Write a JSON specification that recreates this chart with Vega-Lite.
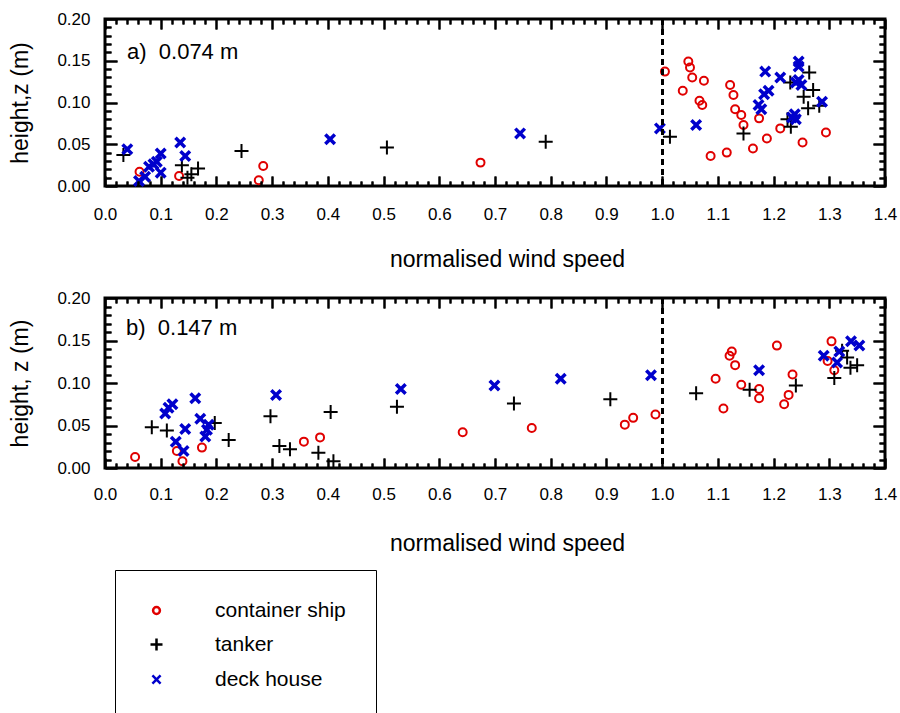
{
  "$schema": "https://vega.github.io/schema/vega-lite/v6.json",
  "background": "white",
  "padding": {"left": 8, "top": 8, "right": 5, "bottom": 0},
  "config": {
    "font": "Liberation Sans",
    "view": {"stroke": "black", "strokeWidth": 3},
    "axis": {
      "domain": false,
      "labelFont": "Liberation Sans",
      "labelFontSize": 17,
      "labelColor": "black",
      "labelOverlap": false,
      "labelFlush": false,
      "titleFont": "Liberation Sans",
      "titleFontSize": 23,
      "titleFontWeight": "normal",
      "titleColor": "black"
    },
    "legend": {
      "labelFont": "Liberation Sans",
      "labelFontSize": 21,
      "labelColor": "black"
    }
  },
  "datasets": {
    "panel_a": [
      {"type": "container ship", "ws": 0.062, "z": 0.017},
      {"type": "container ship", "ws": 0.133, "z": 0.012},
      {"type": "container ship", "ws": 0.276, "z": 0.007},
      {"type": "container ship", "ws": 0.284, "z": 0.024},
      {"type": "container ship", "ws": 0.674, "z": 0.028},
      {"type": "container ship", "ws": 1.005, "z": 0.137},
      {"type": "container ship", "ws": 1.047, "z": 0.149},
      {"type": "container ship", "ws": 1.050, "z": 0.142},
      {"type": "container ship", "ws": 1.054, "z": 0.130},
      {"type": "container ship", "ws": 1.037, "z": 0.114},
      {"type": "container ship", "ws": 1.075, "z": 0.126},
      {"type": "container ship", "ws": 1.067, "z": 0.102},
      {"type": "container ship", "ws": 1.072, "z": 0.097},
      {"type": "container ship", "ws": 1.122, "z": 0.121},
      {"type": "container ship", "ws": 1.128, "z": 0.109},
      {"type": "container ship", "ws": 1.131, "z": 0.092},
      {"type": "container ship", "ws": 1.142, "z": 0.085},
      {"type": "container ship", "ws": 1.146, "z": 0.073},
      {"type": "container ship", "ws": 1.174, "z": 0.081},
      {"type": "container ship", "ws": 1.087, "z": 0.036},
      {"type": "container ship", "ws": 1.116, "z": 0.040},
      {"type": "container ship", "ws": 1.163, "z": 0.045},
      {"type": "container ship", "ws": 1.188, "z": 0.057},
      {"type": "container ship", "ws": 1.212, "z": 0.069},
      {"type": "container ship", "ws": 1.252, "z": 0.052},
      {"type": "container ship", "ws": 1.294, "z": 0.064},
      {"type": "tanker", "ws": 0.033, "z": 0.037},
      {"type": "tanker", "ws": 0.138, "z": 0.025},
      {"type": "tanker", "ws": 0.148, "z": 0.010},
      {"type": "tanker", "ws": 0.155, "z": 0.014},
      {"type": "tanker", "ws": 0.167, "z": 0.021},
      {"type": "tanker", "ws": 0.245, "z": 0.042},
      {"type": "tanker", "ws": 0.506, "z": 0.046},
      {"type": "tanker", "ws": 0.791, "z": 0.053},
      {"type": "tanker", "ws": 1.014, "z": 0.059},
      {"type": "tanker", "ws": 1.146, "z": 0.063},
      {"type": "tanker", "ws": 1.230, "z": 0.124},
      {"type": "tanker", "ws": 1.264, "z": 0.136},
      {"type": "tanker", "ws": 1.254, "z": 0.107},
      {"type": "tanker", "ws": 1.271, "z": 0.115},
      {"type": "tanker", "ws": 1.262, "z": 0.093},
      {"type": "tanker", "ws": 1.282, "z": 0.096},
      {"type": "tanker", "ws": 1.225, "z": 0.080},
      {"type": "tanker", "ws": 1.231, "z": 0.071},
      {"type": "deck house", "ws": 0.040, "z": 0.044},
      {"type": "deck house", "ws": 0.061, "z": 0.006},
      {"type": "deck house", "ws": 0.072, "z": 0.011},
      {"type": "deck house", "ws": 0.079, "z": 0.023},
      {"type": "deck house", "ws": 0.087, "z": 0.026},
      {"type": "deck house", "ws": 0.093, "z": 0.029},
      {"type": "deck house", "ws": 0.100, "z": 0.039},
      {"type": "deck house", "ws": 0.100, "z": 0.016},
      {"type": "deck house", "ws": 0.135, "z": 0.052},
      {"type": "deck house", "ws": 0.144, "z": 0.036},
      {"type": "deck house", "ws": 0.404, "z": 0.056},
      {"type": "deck house", "ws": 0.745, "z": 0.063},
      {"type": "deck house", "ws": 0.996, "z": 0.069},
      {"type": "deck house", "ws": 1.061, "z": 0.073},
      {"type": "deck house", "ws": 1.185, "z": 0.137},
      {"type": "deck house", "ws": 1.212, "z": 0.130},
      {"type": "deck house", "ws": 1.245, "z": 0.149},
      {"type": "deck house", "ws": 1.245, "z": 0.143},
      {"type": "deck house", "ws": 1.245, "z": 0.127},
      {"type": "deck house", "ws": 1.250, "z": 0.121},
      {"type": "deck house", "ws": 1.240, "z": 0.124},
      {"type": "deck house", "ws": 1.191, "z": 0.114},
      {"type": "deck house", "ws": 1.183, "z": 0.110},
      {"type": "deck house", "ws": 1.173, "z": 0.097},
      {"type": "deck house", "ws": 1.178, "z": 0.092},
      {"type": "deck house", "ws": 1.233, "z": 0.082},
      {"type": "deck house", "ws": 1.240, "z": 0.080},
      {"type": "deck house", "ws": 1.238, "z": 0.086},
      {"type": "deck house", "ws": 1.287, "z": 0.101}
    ],
    "panel_b": [
      {"type": "container ship", "ws": 0.054, "z": 0.013},
      {"type": "container ship", "ws": 0.129, "z": 0.020},
      {"type": "container ship", "ws": 0.139, "z": 0.008},
      {"type": "container ship", "ws": 0.174, "z": 0.024},
      {"type": "container ship", "ws": 0.357, "z": 0.031},
      {"type": "container ship", "ws": 0.386, "z": 0.036},
      {"type": "container ship", "ws": 0.642, "z": 0.042},
      {"type": "container ship", "ws": 0.766, "z": 0.047},
      {"type": "container ship", "ws": 0.933, "z": 0.051},
      {"type": "container ship", "ws": 0.948, "z": 0.059},
      {"type": "container ship", "ws": 0.988, "z": 0.063},
      {"type": "container ship", "ws": 1.096, "z": 0.105},
      {"type": "container ship", "ws": 1.110, "z": 0.070},
      {"type": "container ship", "ws": 1.121, "z": 0.132},
      {"type": "container ship", "ws": 1.125, "z": 0.137},
      {"type": "container ship", "ws": 1.131, "z": 0.121},
      {"type": "container ship", "ws": 1.142, "z": 0.098},
      {"type": "container ship", "ws": 1.174, "z": 0.093},
      {"type": "container ship", "ws": 1.174, "z": 0.082},
      {"type": "container ship", "ws": 1.206, "z": 0.144},
      {"type": "container ship", "ws": 1.219, "z": 0.075},
      {"type": "container ship", "ws": 1.227, "z": 0.086},
      {"type": "container ship", "ws": 1.234, "z": 0.110},
      {"type": "container ship", "ws": 1.304, "z": 0.149},
      {"type": "container ship", "ws": 1.297, "z": 0.126},
      {"type": "container ship", "ws": 1.309, "z": 0.115},
      {"type": "tanker", "ws": 0.084, "z": 0.048},
      {"type": "tanker", "ws": 0.111, "z": 0.044},
      {"type": "tanker", "ws": 0.197, "z": 0.053},
      {"type": "tanker", "ws": 0.222, "z": 0.033},
      {"type": "tanker", "ws": 0.297, "z": 0.061},
      {"type": "tanker", "ws": 0.313, "z": 0.026},
      {"type": "tanker", "ws": 0.332, "z": 0.022},
      {"type": "tanker", "ws": 0.383, "z": 0.018},
      {"type": "tanker", "ws": 0.405, "z": 0.066},
      {"type": "tanker", "ws": 0.410, "z": 0.008},
      {"type": "tanker", "ws": 0.524, "z": 0.072},
      {"type": "tanker", "ws": 0.734, "z": 0.076},
      {"type": "tanker", "ws": 0.907, "z": 0.081},
      {"type": "tanker", "ws": 1.061, "z": 0.088},
      {"type": "tanker", "ws": 1.157, "z": 0.092},
      {"type": "tanker", "ws": 1.240, "z": 0.097},
      {"type": "tanker", "ws": 1.309, "z": 0.106},
      {"type": "tanker", "ws": 1.323, "z": 0.138},
      {"type": "tanker", "ws": 1.332, "z": 0.130},
      {"type": "tanker", "ws": 1.338, "z": 0.118},
      {"type": "tanker", "ws": 1.350, "z": 0.121},
      {"type": "deck house", "ws": 0.108, "z": 0.064},
      {"type": "deck house", "ws": 0.114, "z": 0.071},
      {"type": "deck house", "ws": 0.121, "z": 0.075},
      {"type": "deck house", "ws": 0.162, "z": 0.082},
      {"type": "deck house", "ws": 0.171, "z": 0.058},
      {"type": "deck house", "ws": 0.186, "z": 0.051},
      {"type": "deck house", "ws": 0.183, "z": 0.045},
      {"type": "deck house", "ws": 0.180, "z": 0.037},
      {"type": "deck house", "ws": 0.144, "z": 0.046},
      {"type": "deck house", "ws": 0.127, "z": 0.031},
      {"type": "deck house", "ws": 0.141, "z": 0.020},
      {"type": "deck house", "ws": 0.307, "z": 0.086},
      {"type": "deck house", "ws": 0.531, "z": 0.093},
      {"type": "deck house", "ws": 0.699, "z": 0.097},
      {"type": "deck house", "ws": 0.818, "z": 0.105},
      {"type": "deck house", "ws": 0.980, "z": 0.109},
      {"type": "deck house", "ws": 1.174, "z": 0.115},
      {"type": "deck house", "ws": 1.290, "z": 0.132},
      {"type": "deck house", "ws": 1.318, "z": 0.137},
      {"type": "deck house", "ws": 1.314, "z": 0.124},
      {"type": "deck house", "ws": 1.339, "z": 0.149},
      {"type": "deck house", "ws": 1.354, "z": 0.144}
    ]
  },
  "spacing": 14,
  "vconcat": [
    {
      "width": 780,
      "height": 167,
      "data": {"name": "panel_a"},
      "layer": [
        {
          "mark": {"type": "point", "filled": false, "opacity": 1, "size": 196},
          "encoding": {
            "x": {
              "field": "ws", "type": "quantitative",
              "scale": {"domain": [0, 1.4], "nice": false, "zero": false},
              "axis": {
                "orient": "bottom", "zindex": 1,
                "ticks": true, "tickColor": "black", "tickWidth": 2,
                "grid": true, "gridColor": "black", "gridOpacity": 1, "gridWidth": 2,
                "gridDash": {"condition": {"test": "abs(datum.value*10 - round(datum.value*10)) < 0.001", "value": [10, 1000]}, "value": [5, 1000]},
                "values": [0,0.02,0.04,0.06,0.08,0.1,0.12,0.14,0.16,0.18,0.2,0.22,0.24,0.26,0.28,0.3,0.32,0.34,0.36,0.38,0.4,0.42,0.44,0.46,0.48,0.5,0.52,0.54,0.56,0.58,0.6,0.62,0.64,0.66,0.68,0.7,0.72,0.74,0.76,0.78,0.8,0.82,0.84,0.86,0.88,0.9,0.92,0.94,0.96,0.98,1,1.02,1.04,1.06,1.08,1.1,1.12,1.14,1.16,1.18,1.2,1.22,1.24,1.26,1.28,1.3,1.32,1.34,1.36,1.38,1.4],
                "tickSize": {"expr": "abs(datum.value*10 - round(datum.value*10)) < 0.001 ? -10 : -5"},
                "labelExpr": "abs(datum.value*10 - round(datum.value*10)) < 0.001 ? format(datum.value, '.1f') : ''",
                "labelPadding": 30,
                "title": "normalised wind speed",
                "titlePadding": 21,
                "titleX": 402
              }
            },
            "y": {
              "field": "z", "type": "quantitative",
              "scale": {"domain": [0, 0.2], "nice": false, "zero": false},
              "axis": {
                "orient": "left", "zindex": 1,
                "ticks": true, "tickColor": "black", "tickWidth": 2,
                "grid": true, "gridColor": "black", "gridOpacity": 1, "gridWidth": 2,
                "gridDash": {"condition": {"test": "abs(datum.value*20 - round(datum.value*20)) < 0.001", "value": [12, 1000]}, "value": [6, 1000]},
                "values": [0,0.01,0.02,0.03,0.04,0.05,0.06,0.07,0.08,0.09,0.1,0.11,0.12,0.13,0.14,0.15,0.16,0.17,0.18,0.19,0.2],
                "tickSize": {"expr": "abs(datum.value*20 - round(datum.value*20)) < 0.001 ? -12 : -6"},
                "labelExpr": "abs(datum.value*20 - round(datum.value*20)) < 0.001 ? format(datum.value, '.2f') : ''",
                "labelPadding": 27,
                "title": "height,z (m)",
                "titlePadding": 24
              }
            },
            "color": {
              "field": "type", "type": "nominal",
              "scale": {"domain": ["container ship", "tanker", "deck house"], "range": ["#e00000", "#000000", "#0000cc"]},
              "legend": {
                "orient": "none", "legendX": 10, "legendY": 551, "title": null,
                "strokeColor": "black", "padding": 30,
                "symbolSize": 144, "symbolStrokeWidth": 2.5, "symbolOffset": 1,
                "labelOffset": 48, "rowPadding": 12
              }
            },
            "shape": {
              "field": "type", "type": "nominal",
              "scale": {
                "domain": ["container ship", "tanker", "deck house"],
                "range": [
                  "M-0.57,0A0.57,0.57 0 1,0 0.57,0A0.57,0.57 0 1,0 -0.57,0Z",
                  "M-1,0H1M0,-1V1",
                  "M-0.68,-0.68L0.68,0.68M-0.68,0.68L0.68,-0.68"
                ]
              }
            },
            "strokeWidth": {
              "condition": {"test": "datum.type === 'deck house'", "value": 3.5},
              "value": 2
            }
          }
        },
        {
          "mark": {"type": "rule", "color": "black", "strokeWidth": 2, "strokeDash": [6, 4]},
          "encoding": {"x": {"datum": 1, "type": "quantitative", "axis": null}}
        },
        {
          "data": {"values": [{"label": "a)\u00a0 0.074 m"}]},
          "mark": {"type": "text", "align": "left", "baseline": "middle", "fontSize": 22, "font": "Liberation Sans", "color": "black"},
          "encoding": {
            "x": {"datum": 0.0395, "type": "quantitative", "axis": null},
            "y": {"datum": 0.16, "type": "quantitative", "axis": null},
            "text": {"field": "label"}
          }
        },
        {
          "mark": {"type": "point", "opacity": 0},
          "encoding": {
            "x": {
              "field": "ws", "type": "quantitative",
              "axis": {
                "orient": "top", "zindex": 1,
                "ticks": true, "tickColor": "black", "tickWidth": 2,
                "grid": true, "gridColor": "black", "gridOpacity": 1, "gridWidth": 2,
                "gridDash": {"condition": {"test": "abs(datum.value*10 - round(datum.value*10)) < 0.001", "value": [10, 1000]}, "value": [5, 1000]},
                "values": [0,0.02,0.04,0.06,0.08,0.1,0.12,0.14,0.16,0.18,0.2,0.22,0.24,0.26,0.28,0.3,0.32,0.34,0.36,0.38,0.4,0.42,0.44,0.46,0.48,0.5,0.52,0.54,0.56,0.58,0.6,0.62,0.64,0.66,0.68,0.7,0.72,0.74,0.76,0.78,0.8,0.82,0.84,0.86,0.88,0.9,0.92,0.94,0.96,0.98,1,1.02,1.04,1.06,1.08,1.1,1.12,1.14,1.16,1.18,1.2,1.22,1.24,1.26,1.28,1.3,1.32,1.34,1.36,1.38,1.4],
                "tickSize": {"expr": "abs(datum.value*10 - round(datum.value*10)) < 0.001 ? -10 : -5"},
                "labels": false,
                "title": null
              }
            },
            "y": {
              "field": "z", "type": "quantitative",
              "axis": {
                "orient": "right", "zindex": 1,
                "ticks": true, "tickColor": "black", "tickWidth": 2,
                "grid": true, "gridColor": "black", "gridOpacity": 1, "gridWidth": 2,
                "gridDash": {"condition": {"test": "abs(datum.value*20 - round(datum.value*20)) < 0.001", "value": [12, 1000]}, "value": [6, 1000]},
                "values": [0,0.01,0.02,0.03,0.04,0.05,0.06,0.07,0.08,0.09,0.1,0.11,0.12,0.13,0.14,0.15,0.16,0.17,0.18,0.19,0.2],
                "tickSize": {"expr": "abs(datum.value*20 - round(datum.value*20)) < 0.001 ? -12 : -6"},
                "labels": false,
                "title": null
              }
            }
          }
        }
      ],
      "resolve": {"axis": {"x": "independent", "y": "independent"}}
    },
    {
      "width": 780,
      "height": 170,
      "data": {"name": "panel_b"},
      "layer": [
        {
          "mark": {"type": "point", "filled": false, "opacity": 1, "size": 196},
          "encoding": {
            "x": {
              "field": "ws", "type": "quantitative",
              "scale": {"domain": [0, 1.4], "nice": false, "zero": false},
              "axis": {
                "orient": "bottom", "zindex": 1,
                "ticks": true, "tickColor": "black", "tickWidth": 2,
                "grid": true, "gridColor": "black", "gridOpacity": 1, "gridWidth": 2,
                "gridDash": {"condition": {"test": "abs(datum.value*10 - round(datum.value*10)) < 0.001", "value": [10, 1000]}, "value": [5, 1000]},
                "values": [0,0.02,0.04,0.06,0.08,0.1,0.12,0.14,0.16,0.18,0.2,0.22,0.24,0.26,0.28,0.3,0.32,0.34,0.36,0.38,0.4,0.42,0.44,0.46,0.48,0.5,0.52,0.54,0.56,0.58,0.6,0.62,0.64,0.66,0.68,0.7,0.72,0.74,0.76,0.78,0.8,0.82,0.84,0.86,0.88,0.9,0.92,0.94,0.96,0.98,1,1.02,1.04,1.06,1.08,1.1,1.12,1.14,1.16,1.18,1.2,1.22,1.24,1.26,1.28,1.3,1.32,1.34,1.36,1.38,1.4],
                "tickSize": {"expr": "abs(datum.value*10 - round(datum.value*10)) < 0.001 ? -10 : -5"},
                "labelExpr": "abs(datum.value*10 - round(datum.value*10)) < 0.001 ? format(datum.value, '.1f') : ''",
                "labelPadding": 28,
                "title": "normalised wind speed",
                "titlePadding": 25,
                "titleX": 402
              }
            },
            "y": {
              "field": "z", "type": "quantitative",
              "scale": {"domain": [0, 0.2], "nice": false, "zero": false},
              "axis": {
                "orient": "left", "zindex": 1,
                "ticks": true, "tickColor": "black", "tickWidth": 2,
                "grid": true, "gridColor": "black", "gridOpacity": 1, "gridWidth": 2,
                "gridDash": {"condition": {"test": "abs(datum.value*20 - round(datum.value*20)) < 0.001", "value": [12, 1000]}, "value": [6, 1000]},
                "values": [0,0.01,0.02,0.03,0.04,0.05,0.06,0.07,0.08,0.09,0.1,0.11,0.12,0.13,0.14,0.15,0.16,0.17,0.18,0.19,0.2],
                "tickSize": {"expr": "abs(datum.value*20 - round(datum.value*20)) < 0.001 ? -12 : -6"},
                "labelExpr": "abs(datum.value*20 - round(datum.value*20)) < 0.001 ? format(datum.value, '.2f') : ''",
                "labelPadding": 27,
                "title": "height, z (m)",
                "titlePadding": 24
              }
            },
            "color": {
              "field": "type", "type": "nominal",
              "scale": {"domain": ["container ship", "tanker", "deck house"], "range": ["#e00000", "#000000", "#0000cc"]}
            },
            "shape": {
              "field": "type", "type": "nominal",
              "scale": {
                "domain": ["container ship", "tanker", "deck house"],
                "range": [
                  "M-0.57,0A0.57,0.57 0 1,0 0.57,0A0.57,0.57 0 1,0 -0.57,0Z",
                  "M-1,0H1M0,-1V1",
                  "M-0.68,-0.68L0.68,0.68M-0.68,0.68L0.68,-0.68"
                ]
              }
            },
            "strokeWidth": {
              "condition": {"test": "datum.type === 'deck house'", "value": 3.5},
              "value": 2
            }
          }
        },
        {
          "mark": {"type": "rule", "color": "black", "strokeWidth": 2, "strokeDash": [6, 4]},
          "encoding": {"x": {"datum": 1, "type": "quantitative", "axis": null}}
        },
        {
          "data": {"values": [{"label": "b)\u00a0 0.147 m"}]},
          "mark": {"type": "text", "align": "left", "baseline": "middle", "fontSize": 22, "font": "Liberation Sans", "color": "black"},
          "encoding": {
            "x": {"datum": 0.0377, "type": "quantitative", "axis": null},
            "y": {"datum": 0.165, "type": "quantitative", "axis": null},
            "text": {"field": "label"}
          }
        },
        {
          "mark": {"type": "point", "opacity": 0},
          "encoding": {
            "x": {
              "field": "ws", "type": "quantitative",
              "axis": {
                "orient": "top", "zindex": 1,
                "ticks": true, "tickColor": "black", "tickWidth": 2,
                "grid": true, "gridColor": "black", "gridOpacity": 1, "gridWidth": 2,
                "gridDash": {"condition": {"test": "abs(datum.value*10 - round(datum.value*10)) < 0.001", "value": [10, 1000]}, "value": [5, 1000]},
                "values": [0,0.02,0.04,0.06,0.08,0.1,0.12,0.14,0.16,0.18,0.2,0.22,0.24,0.26,0.28,0.3,0.32,0.34,0.36,0.38,0.4,0.42,0.44,0.46,0.48,0.5,0.52,0.54,0.56,0.58,0.6,0.62,0.64,0.66,0.68,0.7,0.72,0.74,0.76,0.78,0.8,0.82,0.84,0.86,0.88,0.9,0.92,0.94,0.96,0.98,1,1.02,1.04,1.06,1.08,1.1,1.12,1.14,1.16,1.18,1.2,1.22,1.24,1.26,1.28,1.3,1.32,1.34,1.36,1.38,1.4],
                "tickSize": {"expr": "abs(datum.value*10 - round(datum.value*10)) < 0.001 ? -10 : -5"},
                "labels": false,
                "title": null
              }
            },
            "y": {
              "field": "z", "type": "quantitative",
              "axis": {
                "orient": "right", "zindex": 1,
                "ticks": true, "tickColor": "black", "tickWidth": 2,
                "grid": true, "gridColor": "black", "gridOpacity": 1, "gridWidth": 2,
                "gridDash": {"condition": {"test": "abs(datum.value*20 - round(datum.value*20)) < 0.001", "value": [12, 1000]}, "value": [6, 1000]},
                "values": [0,0.01,0.02,0.03,0.04,0.05,0.06,0.07,0.08,0.09,0.1,0.11,0.12,0.13,0.14,0.15,0.16,0.17,0.18,0.19,0.2],
                "tickSize": {"expr": "abs(datum.value*20 - round(datum.value*20)) < 0.001 ? -12 : -6"},
                "labels": false,
                "title": null
              }
            }
          }
        }
      ],
      "resolve": {"axis": {"x": "independent", "y": "independent"}}
    }
  ]
}
